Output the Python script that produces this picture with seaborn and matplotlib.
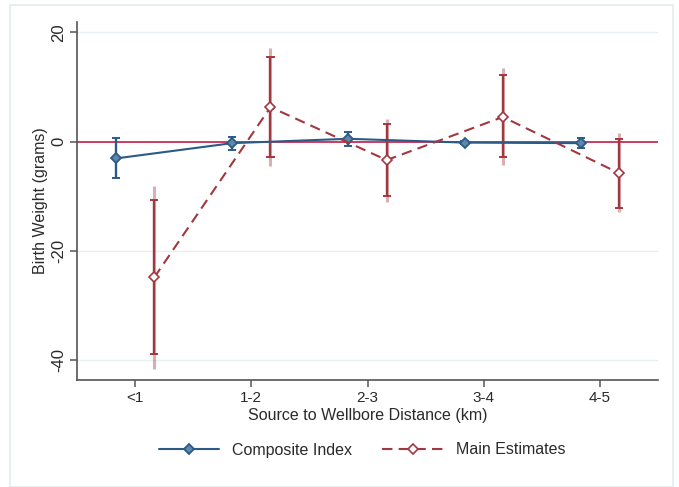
import numpy as np
import pandas as pd
import matplotlib
matplotlib.use("Agg")
import matplotlib.pyplot as plt
from matplotlib.patches import Rectangle
from matplotlib.lines import Line2D
import seaborn as sns

# ---------------- data ----------------
categories = ["<1", "1-2", "2-3", "3-4", "4-5"]

composite_est = [-3.1, -0.3, 0.5, -0.2, -0.3]
composite_lo = [-6.6, -1.6, -0.8, -0.5, -1.1]
composite_hi = [0.6, 0.8, 1.8, 0.1, 0.6]

main_est = [-24.9, 6.3, -3.4, 4.5, -5.8]
main_lo_inner = [-39.0, -2.8, -9.9, -2.8, -12.1]
main_hi_inner = [-10.7, 15.4, 3.2, 12.2, 0.5]
main_lo_outer = [-41.7, -4.4, -11.0, -4.3, -13.0]
main_hi_outer = [-8.2, 17.1, 4.1, 13.4, 1.5]

y_ticks = [20, 0, -20, -40]

# ---------------- style ----------------
sns.set_theme(style="white")
plt.rcParams['font.family'] = ['Liberation Sans', 'DejaVu Sans']

BLUE = "#2c5a87"
BLUE_FILL = "#5f86ab"
RED = "#a2383f"
ZERO = "#cf3a5e"
GRID = "#e6f0f2"
TXT = "#2a2a2a"

n = len(categories)
pos = np.arange(1, n + 1)
off = 0.165

df = pd.DataFrame({
    "x": np.concatenate([pos - off, pos + off]),
    "est": composite_est + main_est,
    "series": ["Composite Index"] * n + ["Main Estimates"] * n,
})

fig = plt.figure(figsize=(6.79, 4.87), dpi=100)
ax = fig.add_axes([77 / 679, 1 - 380 / 487, (658 - 77) / 679, (380 - 22) / 487])

# outer frame
fig.patches.append(Rectangle((10 / 679, 0), (673 - 10) / 679, 1 - 5 / 487,
                             transform=fig.transFigure, fill=False,
                             edgecolor="#e3ecee", lw=1.2, zorder=0))

for t in y_ticks:
    if t != 0:
        ax.axhline(t, color=GRID, lw=1.0, zorder=0)
ax.axhline(0, color=ZERO, lw=1.4, zorder=1)

cap = 0.035

# error bars: composite
xc = pos - off
ax.vlines(xc, composite_lo, composite_hi, color=BLUE, lw=1.7, zorder=3)
ax.hlines(composite_lo, xc - cap, xc + cap, color=BLUE, lw=1.4, zorder=3)
ax.hlines(composite_hi, xc - cap, xc + cap, color=BLUE, lw=1.4, zorder=3)

# error bars: main (outer lighter, inner with caps)
xm = pos + off
ax.vlines(xm, main_lo_outer, main_hi_outer, color=RED, lw=2.2, alpha=0.4, zorder=2)
ax.vlines(xm, main_lo_inner, main_hi_inner, color=RED, lw=1.7, zorder=3)
ax.hlines(main_lo_inner, xm - cap, xm + cap, color=RED, lw=1.4, zorder=3)
ax.hlines(main_hi_inner, xm - cap, xm + cap, color=RED, lw=1.4, zorder=3)

# lines with markers via seaborn
sns.lineplot(data=df[df.series == "Composite Index"], x="x", y="est", ax=ax,
             color=BLUE, lw=1.5, marker="D", markersize=5,
             markerfacecolor=BLUE_FILL, markeredgecolor=BLUE, markeredgewidth=1.3,
             zorder=4, legend=False)
sns.lineplot(data=df[df.series == "Main Estimates"], x="x", y="est", ax=ax,
             color=RED, lw=1.5, linestyle=(0, (5, 3)), marker="D", markersize=5,
             markerfacecolor="white", markeredgecolor=RED, markeredgewidth=1.2,
             zorder=5, legend=False)

ax.set_xlim(0.5, n + 0.5)
ax.set_ylim(-43.7, 21.9)
ax.set_xticks(pos)
ax.set_xticklabels(categories)
ax.set_yticks(y_ticks)
ax.set_yticklabels([str(t) for t in y_ticks], rotation=90, va="center")

for s in ["top", "right"]:
    ax.spines[s].set_visible(False)
for s in ["left", "bottom"]:
    ax.spines[s].set_color("#555555")
    ax.spines[s].set_linewidth(1.2)

ax.tick_params(axis="x", direction="out", length=5, width=1.1, color="#555555",
               labelsize=11, labelcolor=TXT, bottom=True, pad=3)
ax.tick_params(axis="y", direction="out", length=5, width=1.1, color="#555555",
               labelsize=12, labelcolor=TXT, left=True, pad=3)
ax.set_xlabel("Source to Wellbore Distance (km)", fontsize=11.5, color=TXT, labelpad=2)
ax.set_ylabel("Birth Weight (grams)", fontsize=11.5, color=TXT, labelpad=2)

handles = [
    Line2D([0], [0], color=BLUE, lw=1.5, marker="D", markersize=5,
           markerfacecolor=BLUE_FILL, markeredgecolor=BLUE, markeredgewidth=1.3),
    Line2D([0], [0], color=RED, lw=1.5, linestyle=(0, (5, 3)), marker="D", markersize=5,
           markerfacecolor="white", markeredgecolor=RED, markeredgewidth=1.2),
]
fig.legend(handles, ["Composite Index", "Main Estimates"], loc="center",
           bbox_to_anchor=(362 / 679, 1 - 450 / 487), ncol=2, frameon=False,
           fontsize=11.5, handlelength=3.8, columnspacing=1.9, handletextpad=0.8,
           labelcolor=TXT)

fig.savefig("out.png", dpi=100)
